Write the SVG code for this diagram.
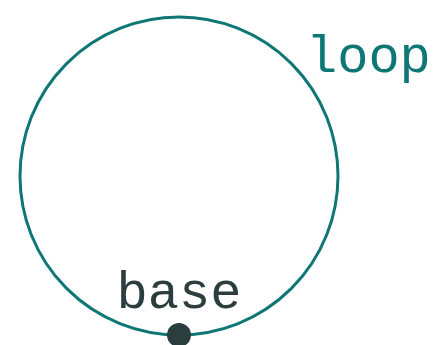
<svg xmlns="http://www.w3.org/2000/svg" width="434" height="345" viewBox="0 0 434 345">
<style>
.lbl{font-family:"Liberation Mono","DejaVu Sans Mono",monospace;font-size:52px}
</style>
<rect width="434" height="345" fill="#ffffff"/>
<g id="edges">
<circle cx="179" cy="176" r="159" fill="none" stroke="#0f7676" stroke-width="3"/>
</g>
<g id="loop">
<text class="lbl" x="306" y="72" fill="#0f7676">loop</text>
</g>
<g id="base">
<circle cx="179" cy="335" r="12" fill="#2b3d3d"/>
<text class="lbl" x="179" y="308" text-anchor="middle" fill="#2b3d3d">base</text>
</g>
</svg>
